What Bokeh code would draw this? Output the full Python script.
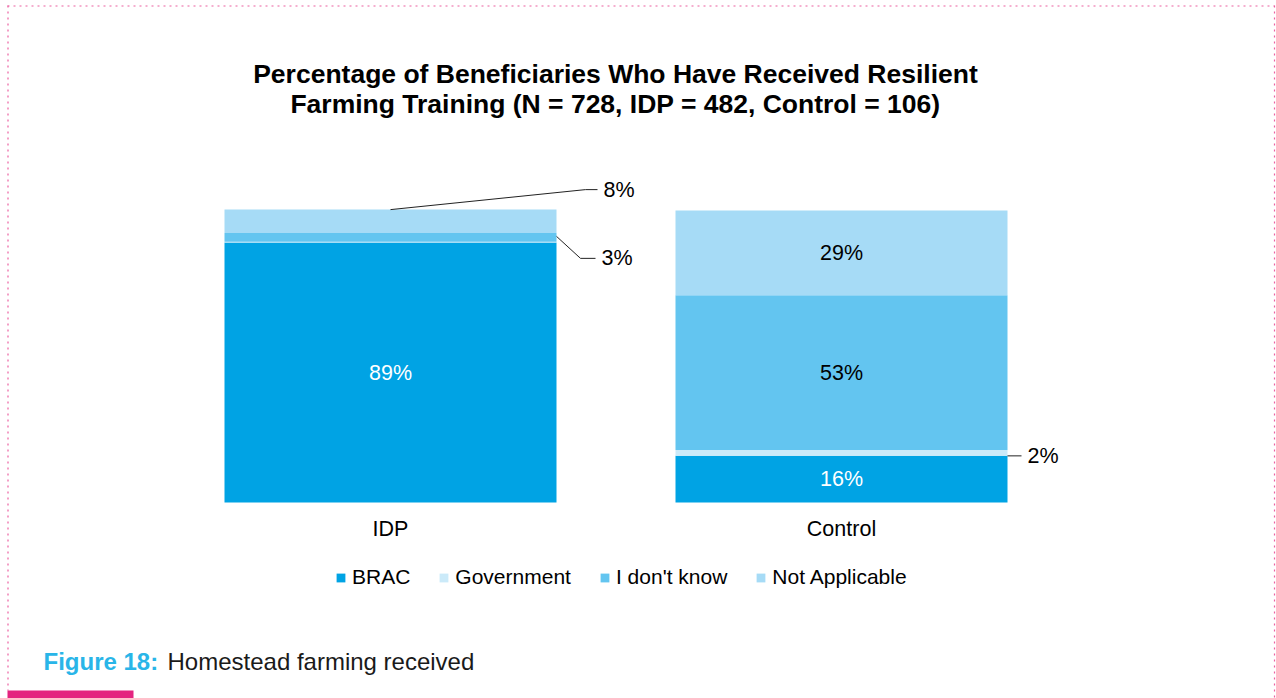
from bokeh.plotting import figure
from bokeh.models import ColumnDataSource, Range1d
from bokeh.core.properties import value
from bokeh.embed import file_html
from bokeh.resources import INLINE

# --- data -----------------------------------------------------------------
categories = ["IDP", "Control"]
series = ["BRAC", "Government", "I don't know", "Not Applicable"]
brac = [89, 16]
government = [0.3, 2]
dont_know = [3, 53]
not_applicable = [8, 29]
colors = ["#00A3E4", "#CBEAF9", "#63C5F0", "#A6DBF6"]

title_lines = ["Percentage of Beneficiaries Who Have Received Resilient",
               "Farming Training (N = 728, IDP = 482, Control = 106)"]
caption_label = "Figure 18:"
caption_text = "Homestead farming received"

W, H = 1276, 698
FONT = value("Liberation Sans")
LABEL_SIZE = "21.5px"

# canvas geometry: category centres and the 0..100 % band in screen pixels
cx0, cx1 = 390, 841
y0_px, y100_px = 502, 210
ppu_x = cx1 - cx0
ppu_y = (y0_px - y100_px) / 100.0
bar_w = 332 / ppu_x

x_start = -cx0 / ppu_x
y_start = -(H - y0_px) / ppu_y
p = figure(width=W, height=H, output_backend="svg", toolbar_location=None,
           x_range=Range1d(x_start, x_start + W / ppu_x),
           y_range=Range1d(y_start, y_start + H / ppu_y),
           x_axis_type=None, y_axis_type=None, min_border=0,
           outline_line_color=None, background_fill_color="white",
           border_fill_color="white")
p.xgrid.visible = False
p.ygrid.visible = False
p.extra_x_ranges = {"px": Range1d(0, W)}
p.extra_y_ranges = {"px": Range1d(H, 0)}

def to_px_y(v):
    return y0_px - v * ppu_y

xs = list(range(len(categories)))
src = ColumnDataSource(dict(x=xs, **{
    "BRAC": brac, "Government": government,
    "I don't know": dont_know, "Not Applicable": not_applicable}))
p.vbar_stack(series, x="x", width=bar_w, source=src, fill_color=colors,
             line_color=None, legend_label=series)

# --- segment labels ---------------------------------------------------------
stack = [brac, government, dont_know, not_applicable]
inside_x, inside_y, inside_t, inside_c = [], [], [], []
side = []  # (category index, low, high, text)
for ci in xs:
    low = 0.0
    for si, vals in enumerate(stack):
        v = vals[ci]
        mid = low + v / 2
        if v >= 10:
            inside_x.append(ci)
            inside_y.append(mid)
            inside_t.append(f"{v:.0f}%")
            inside_c.append("white" if si == 0 else "black")
        elif v >= 1:
            side.append((ci, low, low + v, f"{v:.0f}%"))
        low += v

p.text(x=inside_x, y=inside_y, text=inside_t, text_color=inside_c,
       text_font=FONT, text_font_size=LABEL_SIZE, text_align="center",
       text_baseline="middle")

# leader lines for the thin segments (drawn in screen pixels)
half_px = bar_w * ppu_x / 2
lx, ly, lt = [], [], []
for ci, lo, hi, t in side:
    cx = cx0 + ci * ppu_x
    right = cx + half_px
    if ci == 0 and hi >= 99:
        # top segment: line from the top of the bar up and to the right
        pts_x = [cx, right + 29, right + 41]
        pts_y = [to_px_y(hi), to_px_y(hi) - 20, to_px_y(hi) - 20]
    elif ci == 0:
        ym = to_px_y((lo + hi) / 2)
        pts_x = [right, right + 24, right + 39]
        pts_y = [ym - 1, ym + 21, ym + 21]
    else:
        ym = to_px_y((lo + hi) / 2)
        pts_x = [right, right + 14]
        pts_y = [ym + 3, ym + 3]
    p.line(pts_x, pts_y, x_range_name="px", y_range_name="px",
           line_color="#222222", line_width=1)
    lx.append(pts_x[-1] + 6)
    ly.append(pts_y[-1])
    lt.append(t)
p.text(x=lx, y=ly, text=lt, x_range_name="px", y_range_name="px",
       text_font=FONT, text_font_size=LABEL_SIZE, text_align="left",
       text_baseline="middle", text_color="black")

# category labels under the bars
p.text(x=xs, y=[to_px_y(0) + 26] * len(xs), text=categories,
       y_range_name="px", text_font=FONT, text_font_size=LABEL_SIZE,
       text_align="center", text_baseline="middle", text_color="black")

# --- title ----------------------------------------------------------------
p.text(x=[615, 615], y=[73, 103], text=title_lines, x_range_name="px",
       y_range_name="px", text_font=FONT, text_font_size="26.5px",
       text_font_style="bold", text_align="center", text_baseline="middle",
       text_color="black")

# --- caption ----------------------------------------------------------------
p.text(x=[43], y=[661], text=[caption_label], x_range_name="px",
       y_range_name="px", text_font=FONT, text_font_size="24px",
       text_font_style="bold", text_align="left", text_baseline="middle",
       text_color="#29B5E8")
p.text(x=[167], y=[661], text=[caption_text], x_range_name="px",
       y_range_name="px", text_font=FONT, text_font_size="24px",
       text_align="left", text_baseline="middle", text_color="#1a1a1a")

# --- page frame -------------------------------------------------------------
dot = dict(x_range_name="px", y_range_name="px", line_color="#EC5FA0",
           line_width=1.2, line_dash="2 4")
p.line([7, 1274], [5.5, 5.5], **dot)
p.line([7.5, 7.5], [5, 690], **dot)
p.line([1274, 1274], [5, 698], **dot)
p.quad(left=[7], right=[133], bottom=[698], top=[690], x_range_name="px",
       y_range_name="px", fill_color="#E4237F", line_color=None)

# --- legend -----------------------------------------------------------------
lg = p.legend[0]
lg.orientation = "horizontal"
lg.location = (335, 109)
lg.glyph_width = 11
lg.glyph_height = 11
lg.label_standoff = 6
lg.spacing = 28
lg.padding = 0
lg.margin = 0
lg.label_height = 22
lg.label_text_font = "Liberation Sans"
lg.label_text_font_size = "21px"
lg.label_text_color = "black"
lg.border_line_color = None
lg.background_fill_alpha = 0

open("out.html", "w").write(file_html(p, INLINE))
